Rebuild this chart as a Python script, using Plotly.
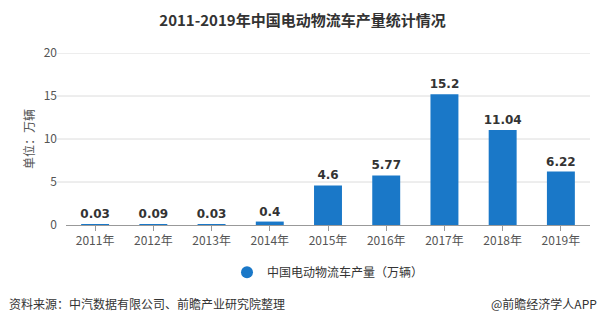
import plotly.graph_objects as go

years = ["2011年", "2012年", "2013年", "2014年", "2015年", "2016年", "2017年", "2018年", "2019年"]
output = [0.03, 0.09, 0.03, 0.4, 4.6, 5.77, 15.2, 11.04, 6.22]
label_text = ["0.03", "0.09", "0.03", "0.4", "4.6", "5.77", "15.2", "11.04", "6.22"]
y_ticks = [0, 5, 10, 15, 20]

series_name = "中国电动物流车产量（万辆）"
bar_color = "#1a78c8"
font_family = "Noto Sans CJK SC, Microsoft YaHei, sans-serif"

fig = go.Figure()
fig.add_trace(go.Bar(
    x=years,
    y=output,
    name=series_name,
    marker=dict(color=bar_color, line=dict(width=0)),
    width=0.48,
    text=label_text,
    texttemplate="<b>%{text}</b>",
    textposition="outside",
    constraintext="none",
    cliponaxis=False,
    textfont=dict(size=12, color="#333333", family="DejaVu Sans, sans-serif"),
    showlegend=False,
))
# legend entry drawn as a round marker
fig.add_trace(go.Scatter(
    x=[None], y=[None], mode="markers", name=series_name,
    marker=dict(symbol="circle", size=11, color=bar_color),
    showlegend=True,
))

# horizontal grid lines extending slightly left of the category band
shapes = []
for t in y_ticks[1:]:
    shapes.append(dict(type="line", xref="paper", yref="y", x0=-0.017, x1=1.0,
                       y0=t, y1=t, line=dict(color="#dcdcdc", width=1), layer="below"))

fig.update_layout(
    width=605, height=325,
    margin=dict(l=66, r=15, t=53, b=100),
    paper_bgcolor="white", plot_bgcolor="white",
    font=dict(family=font_family, color="#555555", size=12),
    title=dict(text="<b>2011-2019年中国电动物流车产量统计情况</b>", x=0.5, xanchor="center",
               y=0.935, yanchor="middle", font=dict(size=15, color="#333333", family=font_family)),
    bargap=0.5,
    shapes=shapes,
    legend=dict(orientation="h", x=0.5, xanchor="center", y=-0.275, yanchor="middle",
                font=dict(size=12, color="#333333"), itemsizing="constant"),
    annotations=[
        dict(text="资料来源：中汽数据有限公司、前瞻产业研究院整理", xref="paper", yref="paper",
             x=-0.112, y=-0.455, xanchor="left", yanchor="middle", showarrow=False,
             font=dict(size=12, color="#333333")),
        dict(text="@前瞻经济学人APP", xref="paper", yref="paper",
             x=1.018, y=-0.455, xanchor="right", yanchor="middle", showarrow=False,
             font=dict(size=12, color="#333333")),
    ],
)
fig.update_xaxes(
    showline=True, linecolor="#999999", linewidth=1,
    ticks="outside", ticklen=5, tickcolor="#999999",
    tickfont=dict(size=12, color="#555555"),
    showgrid=False,
)
fig.update_yaxes(
    range=[0, 20], tickvals=y_ticks, showgrid=False, zeroline=False,
    tickfont=dict(size=12, color="#555555"),
    title=dict(text="单位：万辆", font=dict(size=12, color="#555555"), standoff=6),
    ticklabelstandoff=8,
)

fig.write_html("out.html")
